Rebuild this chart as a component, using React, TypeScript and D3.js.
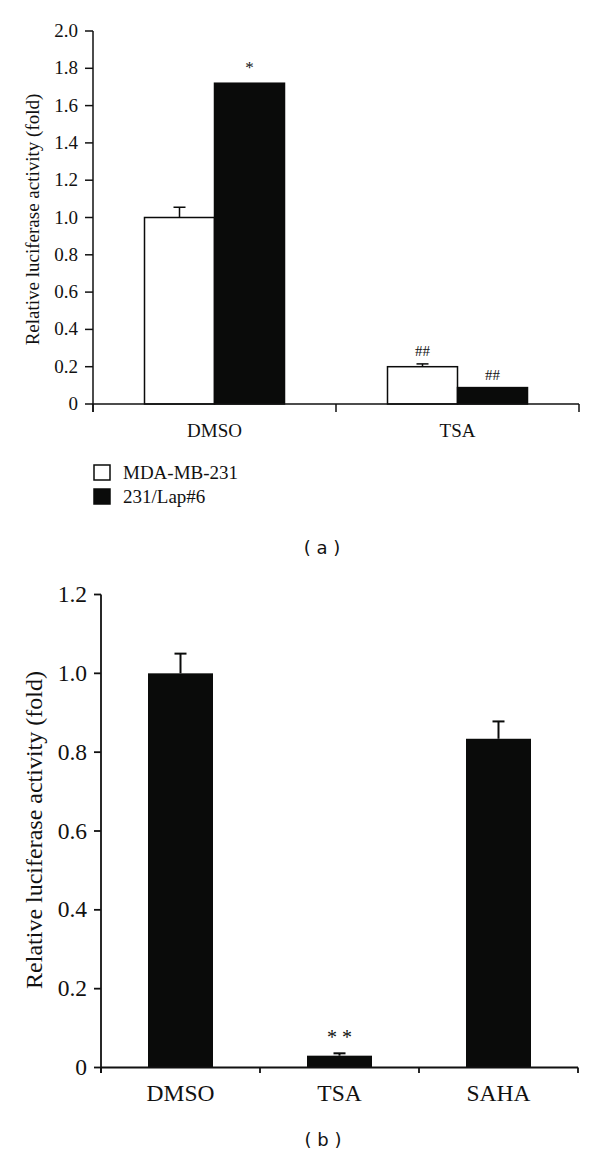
import React from "react";
import * as d3 from "d3";

// ---------- Panel (a) data ----------
const catsA = ["DMSO", "TSA"];
const seriesA = ["MDA-MB-231", "231/Lap#6"];
const valuesA_MDA = [1.0, 0.2];
const errorsA_MDA = [0.055, 0.015];
const valuesA_Lap = [1.72, 0.088];
const errorsA_Lap = [0, 0];
const marksA_MDA = ["", "##"];
const marksA_Lap = ["*", "##"];
const ticksA = [0, 0.2, 0.4, 0.6, 0.8, 1.0, 1.2, 1.4, 1.6, 1.8, 2.0];

// ---------- Panel (b) data ----------
const catsB = ["DMSO", "TSA", "SAHA"];
const valuesB = [1.0, 0.03, 0.834];
const errorsB = [0.05, 0.006, 0.044];
const marksB = ["", "* *", ""];
const ticksB = [0, 0.2, 0.4, 0.6, 0.8, 1.0, 1.2];

const serif = "'Liberation Serif', 'Times New Roman', serif";
const sans = "'DejaVu Sans', Verdana, sans-serif";

const fmt = (v: number) => (v === 0 ? "0" : d3.format(".1f")(v));

function PanelA() {
  const x0 = d3.scaleBand<string>().domain(catsA).range([93, 579]).padding(0);
  const x1 = d3.scaleBand<string>().domain(seriesA).range([-70, 70]).padding(0);
  const y = d3.scaleLinear().domain([0, 2]).range([404, 31]);
  const seriesVals = [valuesA_MDA, valuesA_Lap];
  const seriesErr = [errorsA_MDA, errorsA_Lap];
  const seriesMarks = [marksA_MDA, marksA_Lap];
  const fills = ["#ffffff", "#0a0b0a"];
  const bw = x1.bandwidth();
  return (
    <g>
      {catsA.map((c, i) =>
        seriesA.map((s, j) => {
          const cx = x0(c)! + x0.bandwidth() / 2;
          const bx = cx + x1(s)!;
          const v = seriesVals[j][i];
          const e = seriesErr[j][i];
          const mid = bx + bw / 2;
          return (
            <g key={c + s}>
              <rect x={bx} y={y(v)} width={bw} height={y(0) - y(v)} fill={fills[j]} stroke="#0a0b0a" strokeWidth={1.5} />
              {e > 0 && (
                <g stroke="#0a0b0a" strokeWidth={1.5}>
                  <line x1={mid} x2={mid} y1={y(v)} y2={y(v + e)} />
                  <line x1={mid - 6} x2={mid + 6} y1={y(v + e)} y2={y(v + e)} />
                </g>
              )}
              {seriesMarks[j][i] && (
                <text x={mid} y={y(v + e) - (seriesMarks[j][i] === "*" ? 10 : 8)} textAnchor="middle" fontFamily={serif} fontSize={seriesMarks[j][i] === "*" ? 17 : 15} fill="#111">
                  {seriesMarks[j][i]}
                </text>
              )}
            </g>
          );
        })
      )}
      <g stroke="#111" strokeWidth={1.5} fill="none">
        <line x1={93} x2={93} y1={y(2)} y2={412} />
        <line x1={93} x2={579} y1={y(0)} y2={y(0)} />
        {ticksA.map((t) => (
          <line key={t} x1={85} x2={93} y1={y(t)} y2={y(t)} />
        ))}
        {[...catsA.map((c) => x0(c)!), 579].map((xx, k) => (
          <line key={k} x1={xx} x2={xx} y1={y(0)} y2={412} />
        ))}
      </g>
      {ticksA.map((t) => (
        <text key={t} x={78} y={y(t) + 6} textAnchor="end" fontFamily={serif} fontSize={19} fill="#111">
          {fmt(t)}
        </text>
      ))}
      {catsA.map((c) => (
        <text key={c} x={x0(c)! + x0.bandwidth() / 2} y={437} textAnchor="middle" fontFamily={serif} fontSize={19} fill="#111">
          {c}
        </text>
      ))}
      <text transform="translate(39,219.5) rotate(-90)" textAnchor="middle" fontFamily={serif} fontSize={19} fill="#111">
        Relative luciferase activity (fold)
      </text>
      {seriesA.map((s, j) => (
        <g key={s}>
          <rect x={94} y={465 + j * 24} width={16} height={15} fill={fills[j]} stroke="#0a0b0a" strokeWidth={1.5} />
          <text x={123} y={479 + j * 24} fontFamily={serif} fontSize={19} fill="#111">
            {s}
          </text>
        </g>
      ))}
      <text x={322} y={554} textAnchor="middle" fontFamily={sans} fontSize={18} fill="#111" xmlSpace="preserve">
        ( a )
      </text>
    </g>
  );
}

function PanelB() {
  const x = d3.scaleBand<string>().domain(catsB).range([101, 578]).padding(0);
  const y = d3.scaleLinear().domain([0, 1.2]).range([1067.5, 594.5]);
  const bw = 65;
  return (
    <g>
      {catsB.map((c, i) => {
        const cx = x(c)! + x.bandwidth() / 2;
        const v = valuesB[i];
        const e = errorsB[i];
        return (
          <g key={c}>
            <rect x={cx - bw / 2} y={y(v)} width={bw} height={y(0) - y(v)} fill="#0a0b0a" />
            <g stroke="#0a0b0a" strokeWidth={2}>
              <line x1={cx} x2={cx} y1={y(v)} y2={y(v + e)} />
              <line x1={cx - 6} x2={cx + 6} y1={y(v + e)} y2={y(v + e)} />
            </g>
            {marksB[i] && (
              <text x={cx} y={y(v + e) - 9} textAnchor="middle" fontFamily={serif} fontSize={20} fill="#111" xmlSpace="preserve">
                {marksB[i]}
              </text>
            )}
          </g>
        );
      })}
      <g stroke="#111" strokeWidth={1.8} fill="none">
        <line x1={101} x2={101} y1={y(1.2)} y2={1073} />
        <line x1={101} x2={578} y1={y(0)} y2={y(0)} />
        {ticksB.map((t) => (
          <line key={t} x1={94} x2={101} y1={y(t)} y2={y(t)} />
        ))}
        {[...catsB.map((c) => x(c)!), 578].map((xx, k) => (
          <line key={k} x1={xx} x2={xx} y1={y(0)} y2={1073} />
        ))}
      </g>
      {ticksB.map((t) => (
        <text key={t} x={87} y={y(t) + 7.5} textAnchor="end" fontFamily={serif} fontSize={23.5} fill="#111">
          {fmt(t)}
        </text>
      ))}
      {catsB.map((c) => (
        <text key={c} x={x(c)! + x.bandwidth() / 2} y={1101} textAnchor="middle" fontFamily={serif} fontSize={23.5} fill="#111">
          {c}
        </text>
      ))}
      <text transform="translate(42,830) rotate(-90)" textAnchor="middle" fontFamily={serif} fontSize={24} fill="#111">
        Relative luciferase activity (fold)
      </text>
      <text x={323} y={1146} textAnchor="middle" fontFamily={sans} fontSize={18} fill="#111" xmlSpace="preserve">
        ( b )
      </text>
    </g>
  );
}

export default function App() {
  return (
    <svg width={600} height={1160} style={{ position: "absolute", left: 0, top: 0, background: "#fff" }}>
      <rect width={600} height={1160} fill="#fff" />
      <PanelA />
      <PanelB />
    </svg>
  );
}
